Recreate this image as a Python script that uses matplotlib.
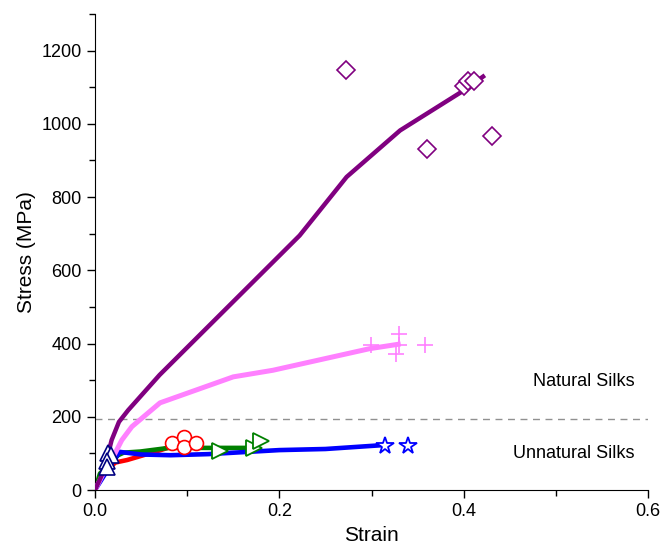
import matplotlib.pyplot as plt
from matplotlib.ticker import MultipleLocator

plt.rcParams['font.family'] = ['Liberation Sans', 'DejaVu Sans']

# curves (strain, stress in MPa)
purple_x = [0, 0.010, 0.018, 0.026, 0.036, 0.070, 0.222, 0.273, 0.331, 0.400, 0.421]
purple_y = [0, 55, 136, 186, 218, 314, 695, 855, 982, 1091, 1129]
pink_x = [0, 0.0127, 0.0217, 0.029, 0.040, 0.0705, 0.150, 0.193, 0.298, 0.329]
pink_y = [0, 64, 100, 136, 173, 238, 309, 327, 386, 398]
red_x = [0, 0.009, 0.022, 0.035, 0.070, 0.095]
red_y = [0, 45, 75, 82, 108, 128]
green_x = [0, 0.0054, 0.025, 0.031, 0.049, 0.080, 0.175]
green_y = [0, 45, 95, 102, 105, 115, 115]
blue_x = [0, 0.010, 0.020, 0.027, 0.050, 0.082, 0.123, 0.200, 0.250, 0.315]
blue_y = [0, 40, 80, 104, 97, 95, 98, 109, 112, 123]

# measured points
diamond_x = [0.272, 0.360, 0.431, 0.400, 0.405, 0.411]
diamond_y = [1148, 932, 968, 1104, 1116, 1118]
cross_x = [0.299, 0.330, 0.330, 0.327, 0.358]
cross_y = [397, 425, 397, 371, 397]
star_x = [0.315, 0.340]
star_y = [121, 121]
circle_x = [0.083, 0.0966, 0.0966, 0.110]
circle_y = [129, 144, 118, 129]
rtri_x = [0.1356, 0.172, 0.180]
rtri_y = [106, 115, 134]
utri_x = [0.0145, 0.017, 0.013, 0.013]
utri_y = [100, 95, 78, 63]

split_y = 195

fig = plt.figure(figsize=(6.62, 5.51), dpi=100)
ax = fig.add_axes([0.1435, 0.1107, 0.8354, 0.8639])

ax.axhline(split_y, color='#909090', lw=1, ls=(0, (5, 4)), zorder=1)

ax.plot(red_x, red_y, color='#ff0000', lw=3.3, zorder=2)
ax.plot(green_x, green_y, color='#008000', lw=3.3, zorder=2)
ax.plot(blue_x, blue_y, color='#0000ff', lw=3.3, zorder=3)
ax.plot(pink_x, pink_y, color='#ff80ff', lw=3.6, zorder=3)
ax.plot(purple_x, purple_y, color='#800080', lw=3.2, zorder=4)

ax.plot(diamond_x, diamond_y, 'D', ms=9, mfc='white', mec='#800080', mew=1.2, ls='none', zorder=5)
ax.plot(cross_x, cross_y, '+', ms=11, mec='#ff80ff', mew=1.2, ls='none', zorder=5)
ax.plot(star_x, star_y, '*', ms=13, mfc='white', mec='#0000ff', mew=1.3, ls='none', zorder=5)
ax.plot(circle_x, circle_y, 'o', ms=10, mfc='white', mec='#ff0000', mew=1.2, ls='none', zorder=5)
ax.plot(rtri_x, rtri_y, '>', ms=11, mfc='white', mec='#008000', mew=1.3, ls='none', zorder=5)
ax.plot(utri_x, utri_y, '^', ms=12, mfc='white', mec='#000080', mew=1.2, ls='none', zorder=6)

ax.text(0.585, 295, 'Natural Silks', ha='right', va='center', fontsize=13)
ax.text(0.585, 100, 'Unnatural Silks', ha='right', va='center', fontsize=13)

ax.set_xlim(0, 0.6)
ax.set_ylim(0, 1300)
ax.set_xticks([0, 0.2, 0.4, 0.6])
ax.set_xticklabels(['0.0', '0.2', '0.4', '0.6'])
ax.set_yticks([0, 200, 400, 600, 800, 1000, 1200])
ax.xaxis.set_minor_locator(MultipleLocator(0.1))
ax.yaxis.set_minor_locator(MultipleLocator(100))
ax.tick_params(which='major', direction='out', length=6, width=1, labelsize=13)
ax.tick_params(which='minor', direction='out', length=4, width=1)
ax.spines['top'].set_visible(False)
ax.spines['right'].set_visible(False)
ax.set_xlabel('Strain', fontsize=15)
ax.set_ylabel('Stress (MPa)', fontsize=15)

fig.savefig('out.png', dpi=100)
